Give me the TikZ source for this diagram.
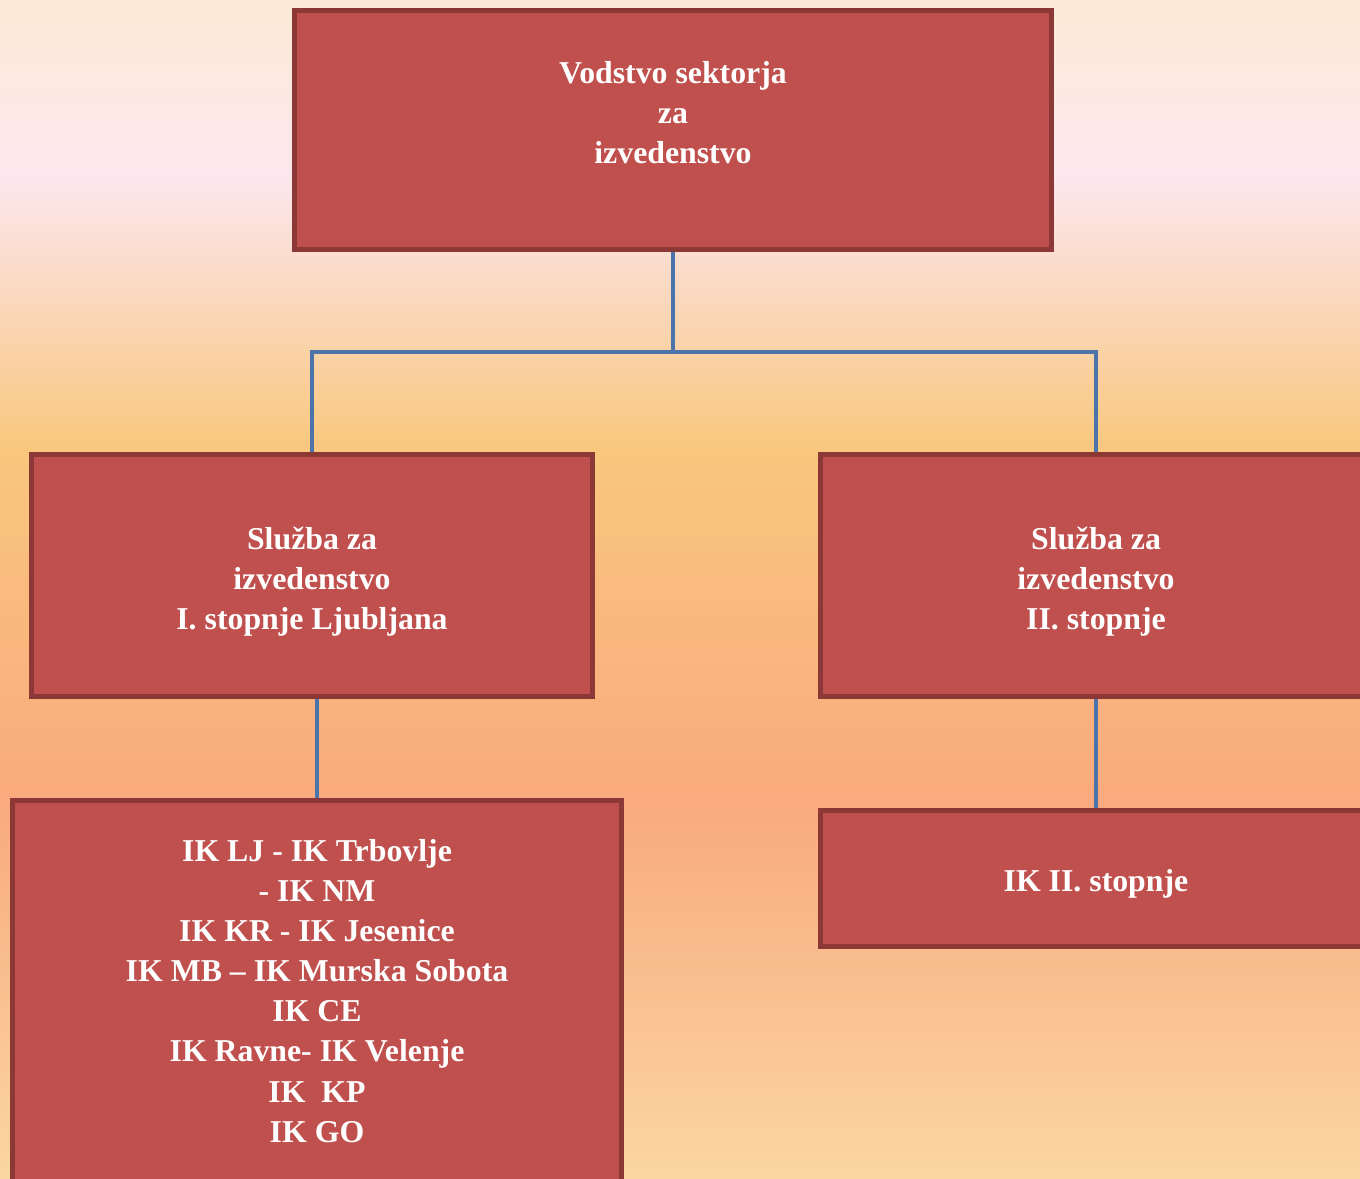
\documentclass[tikz,border=0pt]{standalone}
\usepackage{fontspec}
\setmainfont{Liberation Serif}
\definecolor{bgtop}{RGB}{252,234,214}
\definecolor{bgpink}{RGB}{252,231,238}
\definecolor{bgpeach}{RGB}{251,218,196}
\definecolor{bgorange}{RGB}{249,199,126}
\definecolor{bgsalmon}{RGB}{249,170,126}
\definecolor{bgbottom}{RGB}{250,214,160}
\definecolor{boxfill}{RGB}{192,80,77}
\definecolor{boxedge}{RGB}{140,56,54}
\definecolor{linkblue}{RGB}{74,116,170}
\pgfdeclareverticalshading{slideshade}{100bp}{%
  color(0bp)=(bgbottom); color(25bp)=(bgbottom); color(41bp)=(bgsalmon);
  color(56bp)=(bgorange); color(63bp)=(bgpeach); color(67.5bp)=(bgpink);
  color(75bp)=(bgtop); color(100bp)=(bgtop)}
\tikzset{
  orgbox/.style={draw=boxedge, fill=boxfill, line width=0.1cm, inner sep=0pt,
    text=white, align=center, font=\bfseries\fontsize{18.1}{22.8}\selectfont},
  link/.style={draw=linkblue, line width=0.08cm}
}
\begin{document}
\begin{tikzpicture}[x=0.02cm,y=-0.02cm]
  \useasboundingbox (0,0) rectangle (1360,1178);
  \clip (0,0) rectangle (1360,1178);
  \shade[shading=slideshade] (0,0) rectangle (1360,1178);
  % boxes
  \node[orgbox, minimum width=15.16cm, minimum height=4.8cm] (lead) at (673,130)
    {\rule{0pt}{0.55cm}Vodstvo sektorja\\za\\izvedenstvo\\~};
  \node[orgbox, minimum width=11.24cm, minimum height=4.86cm] (first) at (312,575.5)
    {\rule{0pt}{0.71cm}Služba za\\izvedenstvo\\I. stopnje Ljubljana};
  \node[orgbox, minimum width=11.04cm, minimum height=4.86cm] (second) at (1096,575.5)
    {\rule{0pt}{0.71cm}Služba za\\izvedenstvo\\II. stopnje};
  \node[orgbox, minimum width=12.2cm, minimum height=7.64cm] (units) at (317,991)
    {IK LJ - IK Trbovlje\\ - IK NM\\IK KR - IK Jesenice\\IK MB – IK Murska Sobota\\IK CE\\IK Ravne- IK Velenje\\IK~~KP\\IK GO};
  \node[orgbox, minimum width=11.04cm, minimum height=2.72cm] (upper) at (1096,878)
    {\rule{0pt}{0.66cm}IK II. stopnje};
  % connectors
  \coordinate (fork) at (673,352);
  \draw[link] (lead.south) -- (fork);
  \draw[link] (first.north) |- (fork) -| (second.north);
  \draw[link] (units.north |- first.south) -- (units.north);
  \draw[link] (second.south) -- (upper.north);
\end{tikzpicture}
\end{document}
